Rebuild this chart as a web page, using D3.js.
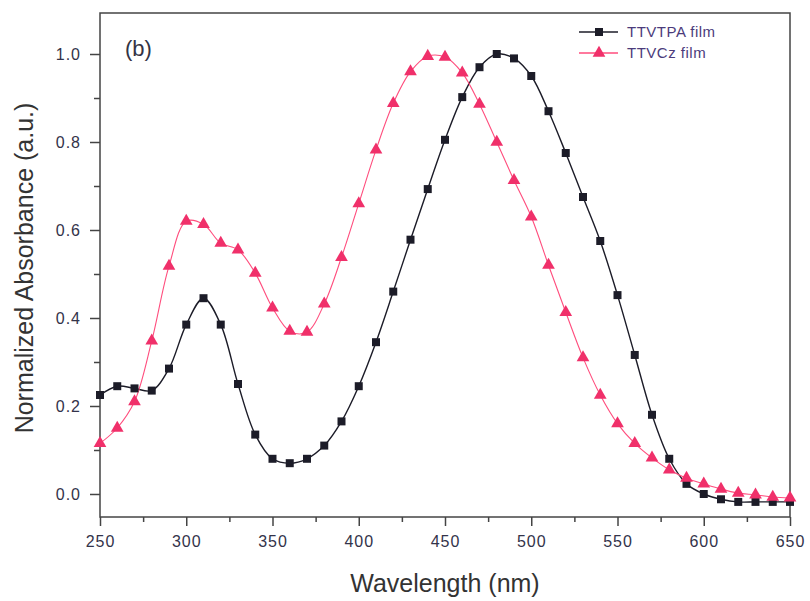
<!DOCTYPE html>
<meta charset="utf-8">
<style>
body { margin: 0; background: #fff; }
.axis text { font: 16px "Liberation Sans", Arial, sans-serif; fill: #33334a; letter-spacing: 1px; }
.axis path, .axis line { fill: none; stroke: #444; stroke-width: 1.5; }
.title { font: 25px "Liberation Sans", Arial, sans-serif; fill: #333; }
.legend text { font: 15px "Liberation Sans", Arial, sans-serif; fill: #4b3b7b; letter-spacing: 0.5px; }
</style>
<svg class="chart"></svg>
<script src="https://d3js.org/d3.v7.min.js"></script>
<script>

var wavelength = [250,260,270,280,290,300,310,320,330,340,350,360,370,380,390,400,410,420,430,440,
                  450,460,470,480,490,500,510,520,530,540,550,560,570,580,590,600,610,620,630,640,650];
var ttvtpa = [0.225,0.245,0.24,0.235,0.285,0.385,0.445,0.385,0.25,0.135,0.08,0.07,0.08,0.11,0.165,0.245,0.345,0.46,0.578,0.693,
              0.805,0.902,0.97,1.0,0.99,0.95,0.87,0.775,0.675,0.575,0.452,0.316,0.18,0.08,0.023,0.0,-0.012,-0.018,-0.018,-0.018,-0.018];
var ttvcz = [0.115,0.15,0.21,0.348,0.518,0.62,0.613,0.57,0.555,0.502,0.423,0.37,0.368,0.432,0.538,0.66,0.782,0.888,0.96,0.995,
             0.993,0.957,0.886,0.8,0.713,0.63,0.52,0.413,0.31,0.225,0.16,0.115,0.082,0.055,0.036,0.023,0.011,0.002,-0.002,-0.007,-0.009];
var xTicks = [250,300,350,400,450,500,550,600,650];
var yTicks = [0.0,0.2,0.4,0.6,0.8,1.0];
var seriesNames = ["TTVTPA film", "TTVCz film"];

var W = 810, H = 601;
var margin = {top: 13, right: 20, bottom: 84, left: 100},
    width = W - margin.left - margin.right,
    height = H - margin.top - margin.bottom;

var x = d3.scaleLinear().domain([250, 650]).range([0, width]);
var y = d3.scaleLinear().domain([-0.0523, 1.0932]).range([height, 0]);

var svg = d3.select(".chart").attr("width", W).attr("height", H);
var chart = svg.append("g").attr("transform", "translate(" + margin.left + "," + margin.top + ")");

// frame
chart.append("rect").attr("width", width).attr("height", height)
  .attr("fill", "none").attr("stroke", "#444").attr("stroke-width", 1.5);

// minor ticks
chart.append("g").attr("class", "axis")
  .attr("transform", "translate(0," + height + ")")
  .call(d3.axisBottom(x).tickValues(d3.range(275, 650, 50)).tickSize(5).tickFormat(""))
  .select(".domain").remove();
chart.append("g").attr("class", "axis")
  .call(d3.axisLeft(y).tickValues([0.1,0.3,0.5,0.7,0.9]).tickSize(6).tickFormat(""))
  .select(".domain").remove();

var xa = chart.append("g").attr("class", "axis")
  .attr("transform", "translate(0," + height + ")")
  .call(d3.axisBottom(x).tickValues(xTicks).tickSize(9).tickPadding(10));
xa.select(".domain").remove();

var ya = chart.append("g").attr("class", "axis")
  .call(d3.axisLeft(y).tickValues(yTicks).tickSize(10).tickPadding(9).tickFormat(d3.format(".1f")));
ya.select(".domain").remove();

svg.append("text").attr("class", "title")
  .attr("x", margin.left + width / 2 - 0).attr("y", 592)
  .attr("text-anchor", "middle").text("Wavelength (nm)");
svg.append("text").attr("class", "title")
  .attr("transform", "translate(33,268) rotate(-90)")
  .attr("text-anchor", "middle").text("Normalized Absorbance (a.u.)");

chart.append("text").attr("x", 25).attr("y", 43)
  .style("font", "22px 'Liberation Sans', Arial, sans-serif").style("fill", "#334")
  .text("(b)");

var line = d3.line().curve(d3.curveCatmullRom)
  .x(function(d, i){ return x(wavelength[i]); })
  .y(function(d){ return y(d); });

var black = "#1c1c28", pink = "#f0306a";

chart.append("path").datum(ttvtpa).attr("d", line)
  .attr("fill", "none").attr("stroke", black).attr("stroke-width", 1.4);
chart.append("path").datum(ttvcz).attr("d", line)
  .attr("fill", "none").attr("stroke", "#ff4d7d").attr("stroke-width", 1.1);

var sq = d3.symbol().type(d3.symbolSquare).size(64);
var tri = d3.symbol().type(d3.symbolTriangle).size(70);

chart.append("g").selectAll("path").data(ttvtpa).enter().append("path")
  .attr("d", sq)
  .attr("transform", function(d, i){ return "translate(" + x(wavelength[i]) + "," + y(d) + ")"; })
  .attr("fill", black);
chart.append("g").selectAll("path").data(ttvcz).enter().append("path")
  .attr("d", tri)
  .attr("transform", function(d, i){ return "translate(" + x(wavelength[i]) + "," + y(d) + ")"; })
  .attr("fill", pink);

// legend
var legend = svg.append("g").attr("class", "legend");
var lcol = [black, pink], lsym = [sq, tri];
seriesNames.forEach(function(name, i){
  var g = legend.append("g").attr("transform", "translate(579," + (32 + i * 21) + ")");
  g.append("line").attr("x1", 0).attr("x2", 39).attr("stroke", i ? "#ff4d7d" : black).attr("stroke-width", 1.4);
  g.append("path").attr("d", lsym[i]).attr("transform", "translate(20,0)").attr("fill", lcol[i]);
  g.append("text").attr("x", 48).attr("dy", "0.35em").text(name);
});
</script>
